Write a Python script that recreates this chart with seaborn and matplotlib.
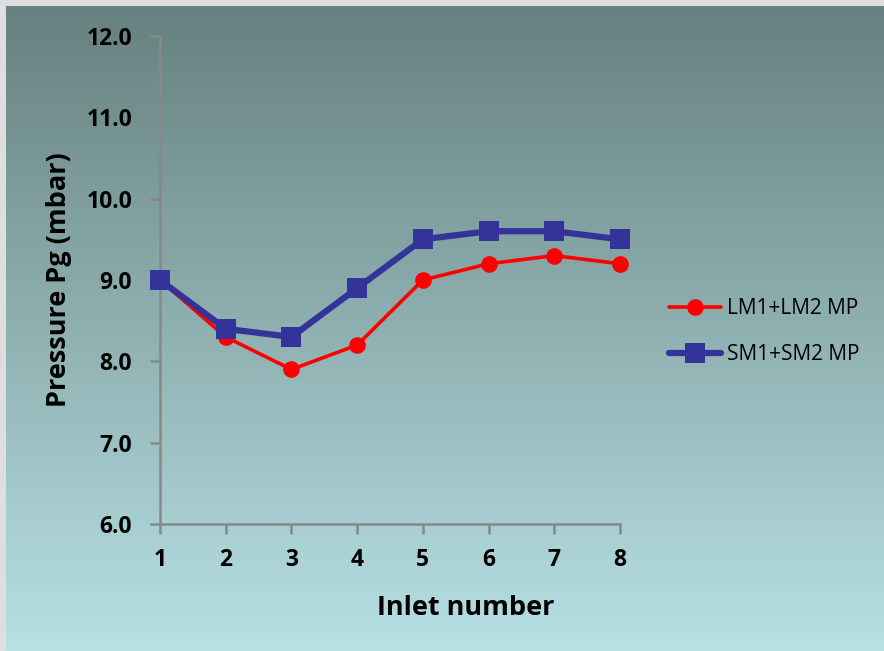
import numpy as np
import pandas as pd
import matplotlib
matplotlib.use("Agg")
import matplotlib.pyplot as plt
import seaborn as sns
from matplotlib.colors import LinearSegmentedColormap

inlets = [1, 2, 3, 4, 5, 6, 7, 8]
lm_pressure = [9.0, 8.3, 7.9, 8.2, 9.0, 9.2, 9.3, 9.2]
sm_pressure = [9.0, 8.4, 8.3, 8.9, 9.5, 9.6, 9.6, 9.5]
series_names = ["LM1+LM2 MP", "SM1+SM2 MP"]
y_ticks = [6.0, 7.0, 8.0, 9.0, 10.0, 11.0, 12.0]

df = pd.concat([
    pd.DataFrame({"Inlet": inlets, "Pressure": lm_pressure, "Series": series_names[0]}),
    pd.DataFrame({"Inlet": inlets, "Pressure": sm_pressure, "Series": series_names[1]}),
])

sns.set_theme(style="ticks")
plt.rcParams["font.family"] = ["Open Sans", "DejaVu Sans"]
plt.rcParams["text.color"] = "black"
plt.rcParams["axes.labelcolor"] = "black"

W, H = 884, 651
fig = plt.figure(figsize=(W / 100, H / 100), dpi=100)
fig.patch.set_facecolor("#dedede")

# gradient panel behind the chart
bg = fig.add_axes([6 / W, 0, 1 - 6 / W, 1 - 6 / H], zorder=-10)
cmap = LinearSegmentedColormap.from_list("panel", ["#66817f", "#8fb0b1", "#b7e1e5"])
grad = np.linspace(0, 1, 256).reshape(-1, 1)
bg.imshow(grad, aspect="auto", cmap=cmap, extent=[0, 1, 0, 1], origin="upper")
bg.set_axis_off()

ax = fig.add_axes([160 / W, 1 - 524 / H, (620 - 160) / W, (524 - 36) / H])
ax.set_facecolor("none")

styles = {
    series_names[0]: dict(color="#ff0000", lw=2.6, marker="o", ms=12),
    series_names[1]: dict(color="#333399", lw=4.5, marker="s", ms=14),
}
for name in series_names:
    st = styles[name]
    sns.lineplot(data=df[df["Series"] == name], x="Inlet", y="Pressure", ax=ax,
                 color=st["color"], linewidth=st["lw"], marker=st["marker"],
                 markersize=st["ms"], markeredgewidth=0, label=name,
                 clip_on=False, zorder=3)

ax.set_xlim(1, 8)
ax.set_ylim(6, 12)
ax.set_xticks(inlets)
ax.set_xticklabels([str(i) for i in inlets])
ax.set_yticks(y_ticks)
ax.set_yticklabels([f"{v:.1f}" for v in y_ticks])
for s in ["top", "right"]:
    ax.spines[s].set_visible(False)
for s in ["left", "bottom"]:
    ax.spines[s].set_color("#888888")
    ax.spines[s].set_linewidth(1.8)
ax.tick_params(axis="both", colors="#888888", width=1.8, length=7,
               labelcolor="black", labelsize=16.5)
ax.tick_params(axis="y", pad=13)
ax.tick_params(axis="x", pad=10)
for lab in ax.get_xticklabels() + ax.get_yticklabels():
    lab.set_fontweight("bold")

ax.set_xlabel("Inlet number", fontsize=19.5, fontweight="bold")
ax.set_ylabel("Pressure Pg (mbar)", fontsize=19.5, fontweight="bold")
ax.xaxis.set_label_coords(0.665, -0.145)
ax.yaxis.set_label_coords(-0.192, 0.5)

leg = ax.legend(loc="center left", bbox_to_anchor=(1.065, 0.394), frameon=False,
                fontsize=15, handlelength=2.5, labelspacing=1.22, handletextpad=0.3)
for t in leg.get_texts():
    t.set_color("black")

fig.savefig("out.png", dpi=100)
